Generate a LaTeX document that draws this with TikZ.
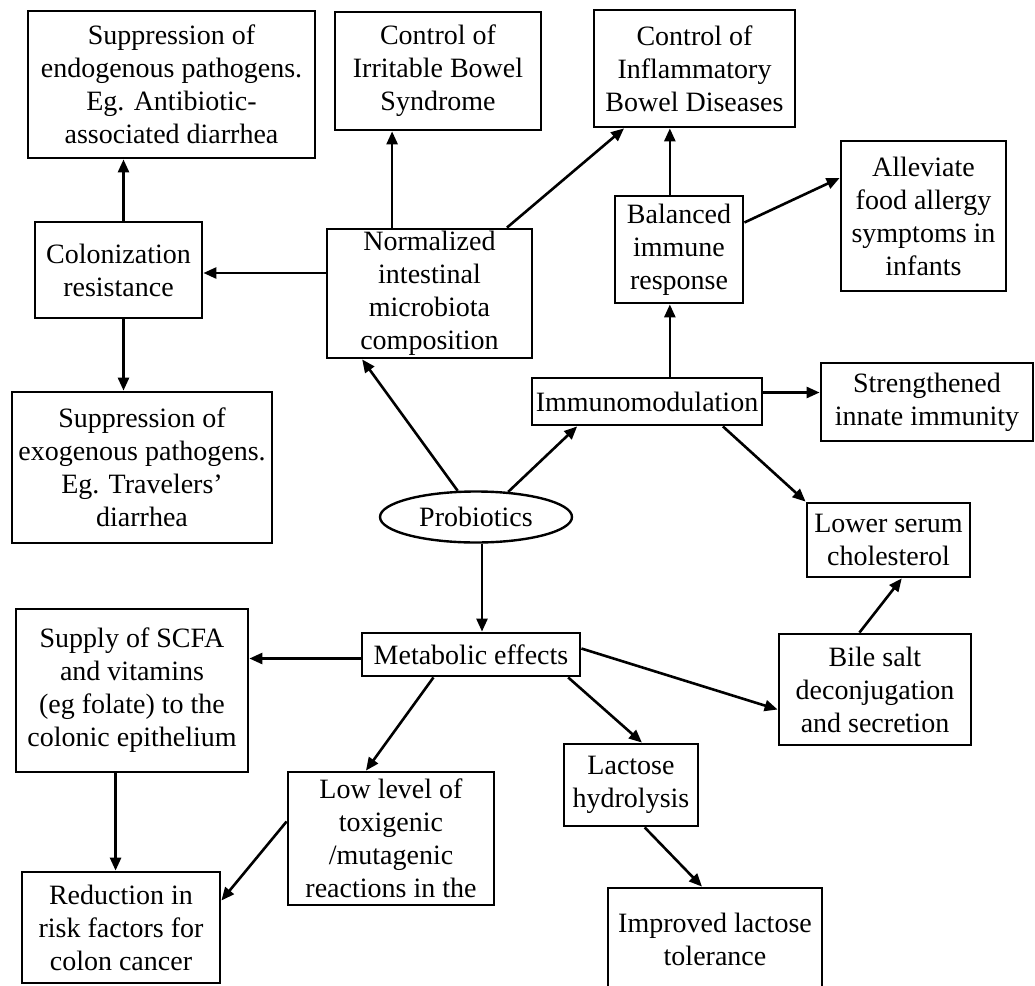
\documentclass[tikz,border=0pt]{standalone}
\usepackage{fontspec}
\setmainfont{Liberation Serif}
\usetikzlibrary{calc, shapes, arrows.meta}

\begin{document}
\begin{tikzpicture}[
	x = 1pt, y = -1pt,
	font = \fontsize{28}{33}\selectfont,
	box/.style = {draw, line width = 2.8pt, rectangle, align = center, inner sep = 1.5pt},
	oval/.style = {draw, line width = 2.4pt, ellipse, inner sep = 0pt},
	arr/.style = {line width = 2.6pt, -{Triangle[length = 13pt, width = 11pt]}}]
	\useasboundingbox (0,0) rectangle (1035,985);

	% Boxes
	\node[box, minimum width = 287pt, minimum height = 147pt] (endo) at (171.5,84.5) {Suppression of\\endogenous pathogens.\\Eg. Antibiotic-\\associated diarrhea};
	\node[box, minimum width = 206pt, minimum height = 118pt] (ibs) at (438,71) {Control of\\Irritable Bowel\\Syndrome};
	\node[box, minimum width = 201pt, minimum height = 117pt] (ibd) at (694.5,68.5) {Control of\\Inflammatory\\Bowel Diseases};
	\node[box, minimum width = 165pt, minimum height = 150pt] (allev) at (923.5,216) {Alleviate\\food allergy\\symptoms in\\infants};
	\node[box, minimum width = 128pt, minimum height = 107pt] (bal) at (679,249.5) {Balanced\\immune\\response};
	\node[box, minimum width = 167pt, minimum height = 96pt] (colon) at (118.5,270) {Colonization\\resistance};
	\node[box, minimum width = 205pt, minimum height = 129pt] (norm) at (429.5,293.5) {Normalized\\intestinal\\microbiota\\composition};
	\node[box, minimum width = 230pt, minimum height = 47pt] (immuno) at (647,401.5) {Immunomodulation};
	\node[box, minimum width = 212pt, minimum height = 78pt] (streng) at (927,402) {Strengthened\\innate immunity};
	\node[box, minimum width = 260pt, minimum height = 151pt] (exo) at (142,467.5) {Suppression of\\exogenous pathogens.\\Eg. Travelers'\\diarrhea};
	\node[oval, minimum width = 192pt, minimum height = 51pt] (prob) at (476,517) {Probiotics};
	\node[box, minimum width = 163pt, minimum height = 74pt] (lower) at (888.5,540) {Lower serum\\cholesterol};
	\node[box, minimum width = 232pt, minimum height = 163pt] (supply) at (132,690.5) {Supply of SCFA\\and vitamins\\(eg folate) to the\\colonic epithelium};
	\node[box, minimum width = 218pt, minimum height = 43pt] (metab) at (471,654.5) {Metabolic effects};
	\node[box, minimum width = 192pt, minimum height = 111pt] (bile) at (875,689.5) {Bile salt\\deconjugation\\and secretion};
	\node[box, minimum width = 134pt, minimum height = 82pt] (lactose) at (631,785) {Lactose\\hydrolysis};
	\node[box, minimum width = 206pt, minimum height = 133pt] (low) at (391,838.5) {Low level of\\toxigenic\\/mutagenic\\reactions in the};
	\node[box, minimum width = 198pt, minimum height = 111pt] (reduct) at (121,927.5) {Reduction in\\risk factors for\\colon cancer};
	\node[box, minimum width = 214pt, minimum height = 102pt] (improved) at (715,939) {Improved lactose\\tolerance};

	% Arrows
	\coordinate (n1) at ($(norm.north west)!0.32!(norm.north east)$);
	\coordinate (b1) at ($(bal.south west)!0.43!(bal.south east)$);
	\coordinate (s1) at ($(supply.south west)!0.43!(supply.south east)$);
	\draw[arr] ($(colon.north)+(5,0)$) -- ($(colon.north |- endo.south)+(5,0)$);
	\draw[arr] ($(colon.south)+(5,0)$) -- ($(colon.south |- exo.north)+(5,0)$);
	\draw[arr] ($(norm.west |- colon)+(0,3)$) -- ($(colon.east)+(0,3)$);
	\draw[arr] (n1) -- (n1 |- ibs.south);
	\draw[arr] (norm) -- (ibd);
	\draw[arr] (bal.north -| b1) -- (ibd.south -| b1);
	\draw[arr] (immuno.north -| b1) -- (b1);
	\draw[arr] ($(bal.east)+(0,-27)$) -- ($(allev.west)+(0,-38)$);
	\draw[arr] ($(immuno.east)+(0,-9)$) -- ($(immuno.east -| streng.west)+(0,-9)$);
	\draw[arr] ($(immuno.south west)!0.826!(immuno.south east)$) -- (lower.north west);
	\draw[arr] (prob.125) -- ($(norm.south west)!0.176!(norm.south east)$);
	\draw[arr] (prob.38) -- ($(immuno.south west)!0.2!(immuno.south east)$);
	\draw[arr] ($(prob.south)+(6,0)$) -- ($(prob.south |- metab.north)+(6,0)$);
	\draw[arr] ($(metab.west)+(0,4)$) -- ($(metab.west -| supply.east)+(0,4)$);
	\draw[arr] ($(metab.south west)!0.33!(metab.south east)$) -- ($(low.north west)!0.38!(low.north east)$);
	\draw[arr] ($(metab.south west)!0.94!(metab.south east)$) -- ($(lactose.north west)!0.58!(lactose.north east)$);
	\draw[arr] ($(metab.east)+(0,-6)$) -- ($(bile.west)+(0,20)$);
	\draw[arr] ($(bile.north west)!0.42!(bile.north east)$) -- ($(lower.south west)!0.58!(lower.south east)$);
	\draw[arr] (s1) -- (s1 |- reduct.north);
	\draw[arr] ($(low.west)+(0,-17)$) -- ($(reduct.east)+(0,-27)$);
	\draw[arr] ($(lactose.south west)!0.6!(lactose.south east)$) -- ($(improved.north west)!0.44!(improved.north east)$);
\end{tikzpicture}
\end{document}
